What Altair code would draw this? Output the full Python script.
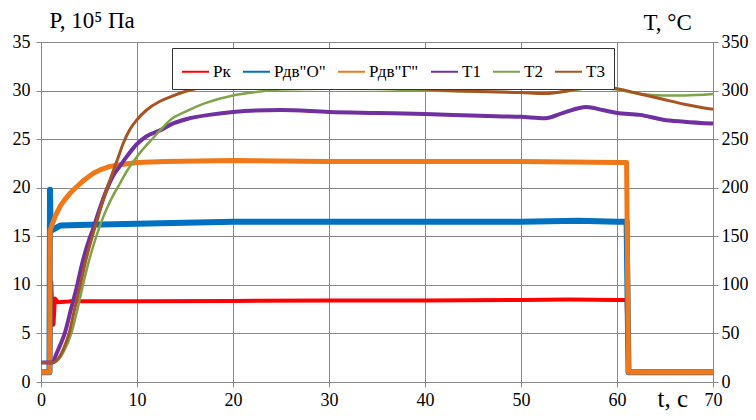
import altair as alt
import pandas as pd

# ---- series names / colours (legend order) ----
names = ['Рк', 'Рдв"О"', 'Рдв"Г"', 'Т1', 'Т2', 'Т3']
colors = ['#FF0000', '#0070C0', '#F07818', '#7030A0', '#7FA346', '#A65522']

# ---- pressure series, 10^5 Pa (left axis) ----
rk_t = [0, 0.95, 1.0, 1.07, 1.15, 1.3, 1.45, 1.8, 3, 10, 20, 30, 40, 50, 55, 60, 61.0, 61.2, 70]
rk_v = [1.0, 1.0, 6.0, 10.3, 8.0, 5.9, 8.6, 8.2, 8.3, 8.3, 8.35, 8.4, 8.4, 8.45, 8.5, 8.45, 8.45, 0.95, 0.95]

do_t = [0, 0.88, 0.94, 1.0, 1.1, 2, 5, 10, 20, 30, 40, 50, 56, 60, 61.0, 61.2, 70]
do_v = [1.0, 1.0, 19.8, 15.8, 15.6, 16.1, 16.2, 16.3, 16.5, 16.5, 16.5, 16.5, 16.6, 16.5, 16.5, 1.0, 1.0]

dg_t = [0, 0.9, 0.95, 1.2, 1.5, 2.0, 2.5, 3.0, 3.72, 4.5, 5.45, 6.3, 7.2, 8.4, 10, 13, 20, 30, 40, 50, 60, 61.0, 61.2, 70]
dg_v = [1.0, 1.0, 15.6, 16.3, 17.1, 18.1, 18.8, 19.4, 20.1, 20.8, 21.5, 21.9, 22.2, 22.4, 22.6, 22.7, 22.8, 22.7, 22.7, 22.7, 22.6, 22.6, 1.0, 1.0]

# ---- temperature series, °C (right axis) ----
t1_t = [0, 1.2, 1.6, 2.0, 2.47, 3.1, 3.78, 4.24, 5.07, 5.45, 6.0, 6.84, 7.5, 8.2, 9.0, 10, 11, 12.4, 13.5, 15.3,
        17.5, 20, 25, 30, 35, 40, 45.7, 50, 52.5, 54.4, 56.8, 58.5, 60, 62.4, 64.8, 67, 70]
t1_v = [20, 20, 29, 38, 50, 74, 100, 120, 148, 158, 175, 198, 212, 222, 233, 245, 253, 259, 265, 271,
        275, 278, 280, 278, 277, 276, 274, 273, 271.5, 277, 283, 280, 277, 275, 270, 268, 266]

t2_t = [0, 1.3, 1.8, 2.4, 3.16, 3.8, 4.375, 5.03, 5.76, 6.49, 7.3, 8.23, 9.0, 10, 11.8, 12.4, 13.5, 15, 17.1, 20,
        22, 25, 30, 35, 40, 45.7, 50, 52.5, 55, 57.5, 60, 62.4, 64.8, 67, 70]
t2_v = [20, 20, 23, 32, 50, 75, 100, 126, 150, 170, 188, 204.5, 218, 232, 252.5, 259, 270, 278, 287, 295,
        298, 301, 302, 301.5, 300, 299, 298, 297.5, 299.5, 303, 301, 296.5, 295, 295, 296.5]

t3_t = [0, 1.3, 1.8, 2.3, 2.92, 3.5, 4.1, 4.69, 5.35, 5.8, 6.5, 7.19, 8.0, 8.58, 9.2, 10, 11, 12.4, 13.6, 15, 17.1,
        20, 25, 30, 35, 40, 45.7, 50, 52.5, 55, 57.5, 60, 62.4, 64.8, 67, 70]
t3_v = [20, 20, 24, 33, 50, 75, 100, 126, 150, 165, 188, 208, 230, 246, 259, 270, 280, 289, 294, 299, 304,
        307.5, 307, 306, 304, 301.5, 299, 298, 297, 300, 305, 302, 296.5, 291, 286, 280.7]

x_ticks = [0, 10, 20, 30, 40, 50, 60, 70]
p_ticks = [0, 5, 10, 15, 20, 25, 30, 35]
t_ticks = [0, 50, 100, 150, 200, 250, 300, 350]

FONT = 'Times New Roman, Liberation Serif, serif'
LBL = 18

xaxis = alt.Axis(values=x_ticks, title='t, с', grid=True, tickSize=5, labelPadding=4, labelFlush=False,
                 labelFont=FONT, labelFontSize=LBL, labelColor='black',
                 titleX=616, titleY=24, titleAlign='left', titleBaseline='alphabetic',
                 titleFont=FONT, titleFontSize=25, titleFontWeight='normal', titleColor='black')
paxis = alt.Axis(values=p_ticks, title='P, 10⁵ Па', orient='left', grid=True, tickSize=5, labelPadding=6,
                 labelFlush=False, labelFont=FONT, labelFontSize=LBL, labelColor='black',
                 titleAngle=0, titleX=8, titleY=-15, titleAlign='left', titleBaseline='alphabetic',
                 titleFont=FONT, titleFontSize=23, titleFontWeight='normal', titleColor='black')
taxis = alt.Axis(values=t_ticks, title='T, °C', orient='right', grid=False, tickSize=5, labelPadding=3,
                 labelFlush=False, labelFont=FONT, labelFontSize=LBL, labelColor='black',
                 titleAngle=0, titleX=-70, titleY=-13, titleAlign='left', titleBaseline='alphabetic',
                 titleFont=FONT, titleFontSize=23, titleFontWeight='normal', titleColor='black')

legend = alt.Legend(title=None, orient='none', legendX=131, legendY=6, direction='horizontal', columns=6,
                    symbolType='stroke', symbolSize=729, symbolStrokeWidth=2,
                    labelFont=FONT, labelFontSize=17, labelColor='black', labelOffset=3,
                    strokeColor='#333333', fillColor='white', padding=9, columnPadding=8)

xscale = alt.Scale(domain=[0, 70], nice=False)
pscale = alt.Scale(domain=[0, 35], nice=False)
tscale = alt.Scale(domain=[0, 350], nice=False)
cscale = alt.Scale(domain=names, range=colors)


def series(t, v, name, width, yscale, yaxis, interp='linear'):
    df = pd.DataFrame({'t': t, 'v': v, 's': name})
    return alt.Chart(df).mark_line(strokeWidth=width, strokeJoin='round', interpolate=interp).encode(
        x=alt.X('t:Q', scale=xscale, axis=xaxis),
        y=alt.Y('v:Q', scale=yscale, axis=yaxis),
        color=alt.Color('s:N', scale=cscale, legend=legend),
    )


p_layer = alt.layer(
    series(rk_t, rk_v, names[0], 4, pscale, paxis),
    series(do_t, do_v, names[1], 6, pscale, paxis),
    series(dg_t, dg_v, names[2], 5, pscale, paxis),
)
t_layer = alt.layer(
    series(t1_t, t1_v, names[3], 4, tscale, taxis, 'monotone'),
    series(t2_t, t2_v, names[4], 2.5, tscale, taxis, 'monotone'),
    series(t3_t, t3_v, names[5], 3, tscale, taxis, 'monotone'),
)

chart = alt.layer(p_layer, t_layer).resolve_scale(y='independent').properties(
    width=672, height=340,
    autosize=alt.AutoSizeParams(type='none'),
    padding={'left': 33, 'top': 34, 'right': 35, 'bottom': 30},
    background='white',
).configure_view(stroke='#888888', strokeWidth=1).configure_axis(
    gridColor='#888888', gridWidth=1, domainColor='#888888', tickColor='#888888',
    labelFont=FONT, labelFontSize=LBL, labelColor='black',
)

chart.save('out.html', embed_options={'renderer': 'svg', 'actions': False})
